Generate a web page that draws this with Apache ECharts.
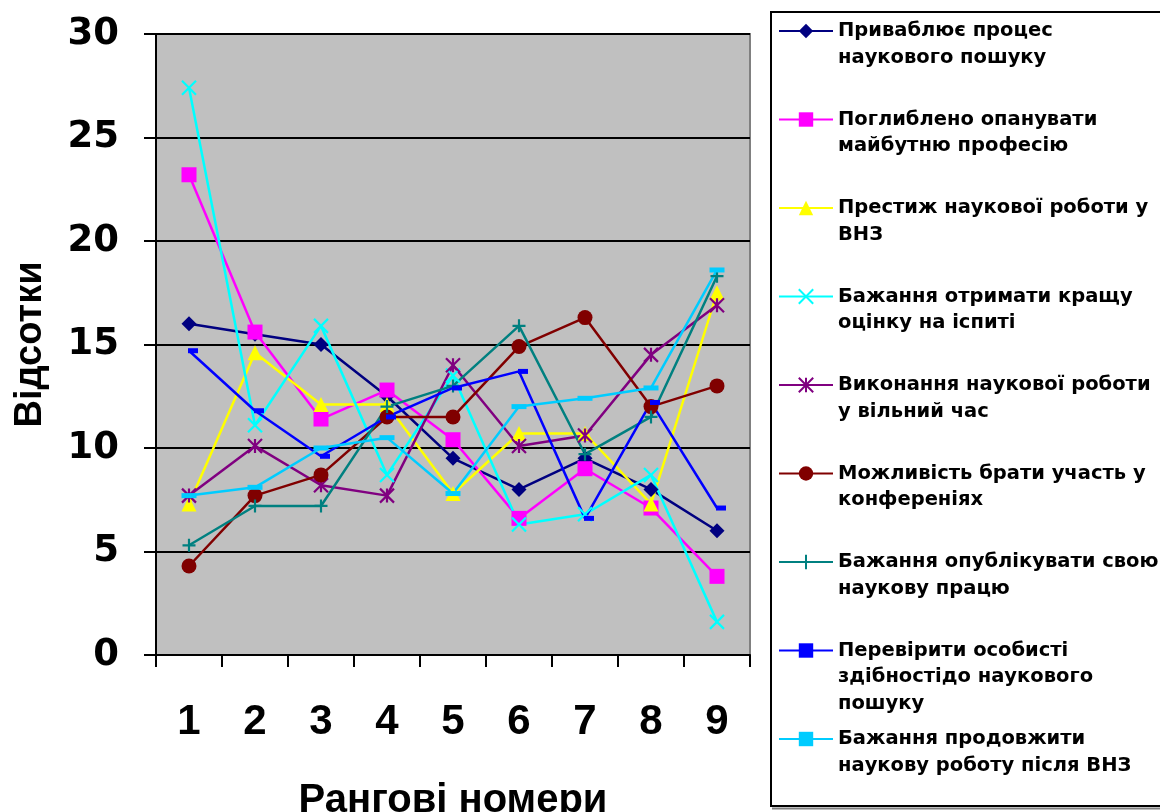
<!DOCTYPE html>
<html>
<head>
<meta charset="utf-8">
<script src="https://cdn.jsdelivr.net/npm/echarts@6/dist/echarts.min.js"></script>
<style>
  html, body { margin: 0; padding: 0; background: #fff; }
  #chart { width: 1160px; height: 812px; }
</style>
</head>
<body>
<div id="chart"></div>
<script>
// ранги по осі X
var ranks = ['1', '2', '3', '4', '5', '6', '7', '8', '9'];

// мотиви (назви рядів, з переносами як у легенді)
var seriesNames = [
  'Приваблює процес\nнаукового пошуку',
  'Поглиблено опанувати\nмайбутню професію',
  'Престиж наукової роботи у\nВНЗ',
  'Бажання отримати кращу\nоцінку на іспиті',
  'Виконання наукової роботи\nу вільний час',
  'Можливість брати участь у\nконференіях',
  'Бажання опублікувати свою\nнаукову працю',
  'Перевірити особисті\nздібностідо наукового\nпошуку',
  'Бажання продовжити\nнаукову роботу після ВНЗ'
];

// відсотки по рангах
var prociesPoshuku   = [16.0, 15.5, 15.0, 12.5, 9.5, 8.0, 9.5, 8.0, 6.0];
var opanuvatyProf    = [23.2, 15.6, 11.4, 12.8, 10.4, 6.6, 9.0, 7.1, 3.8];
var prestyzh         = [7.3, 14.6, 12.1, 12.1, 7.8, 10.7, 10.7, 7.3, 17.5];
var krashchaOtsinka  = [27.4, 11.1, 15.9, 8.7, 13.5, 6.3, 6.8, 8.7, 1.6];
var vilnyiChas       = [7.7, 10.1, 8.2, 7.7, 14.0, 10.1, 10.6, 14.5, 16.9];
var konferentsii     = [4.3, 7.7, 8.7, 11.5, 11.5, 14.9, 16.3, 12.0, 13.0];
var opublikuvaty     = [5.3, 7.2, 7.2, 12.0, 13.0, 15.9, 9.7, 11.5, 18.3];
var zdibnosti        = [14.7, 11.8, 9.6, 11.5, 12.9, 13.7, 6.6, 12.2, 7.1];
var prodovzhyty      = [7.7, 8.1, 10.0, 10.5, 7.8, 12.0, 12.4, 12.9, 18.6];

var yTicks = { min: 0, max: 30, step: 5 };

var allData = [prociesPoshuku, opanuvatyProf, prestyzh, krashchaOtsinka, vilnyiChas,
               konferentsii, opublikuvaty, zdibnosti, prodovzhyty];

var colors = ['#000080', '#FF00FF', '#FFFF00', '#00FFFF', '#800080',
              '#800000', '#008080', '#0000FF', '#00CCFF'];

// маркери як в Excel
var marks = [
  { symbol: 'diamond', size: 15 },
  { symbol: 'rect', size: 15 },
  { symbol: 'triangle', size: 15 },
  { symbol: 'path://M0,0L10,10M10,0L0,10', size: 14, stroke: true },
  { symbol: 'path://M0,0L10,10M10,0L0,10M5,0L5,10', size: 14, stroke: true },
  { symbol: 'circle', size: 15 },
  { symbol: 'path://M0,5L10,5M5,0L5,10', size: 13, stroke: true },
  { symbol: 'rect', size: [10, 5], offset: [4, 0] },
  { symbol: 'rect', size: [15, 5] }
];

var FONT = 'DejaVu Sans';
var lh = 26.5;
var legendY = [31, 119.5, 208, 296.5, 385, 473.5, 562, 650.5, 739];

var series = allData.map(function (d, i) {
  var m = marks[i];
  return {
    name: seriesNames[i],
    type: 'line',
    data: d,
    symbol: m.symbol,
    symbolSize: m.size,
    symbolOffset: m.offset || [0, 0],
    showAllSymbol: true,
    lineStyle: { color: colors[i], width: 2.5 },
    itemStyle: {
      color: colors[i],
      borderColor: colors[i],
      borderWidth: m.stroke ? 2.2 : 0,
      opacity: 1
    }
  };
});

// перший рядок підпису — на рівні значка: додаємо порожні рядки зверху
var legends = seriesNames.map(function (name, i) {
  var n = name.split('\n').length;
  var pad = new Array(n).join(' \n');
  return {
    data: [name],
    left: 778,
    top: legendY[i] - (2 * n - 1) * lh / 2,
    padding: 0,
    itemWidth: 54,
    itemHeight: 18,
    selectedMode: false,
    formatter: function (nm) { return pad + nm; },
    textStyle: {
      fontFamily: FONT,
      fontWeight: 'bold',
      fontSize: 19.5,
      color: '#000',
      lineHeight: lh
    }
  };
});

var myChart = echarts.init(document.getElementById('chart'));
var option = {
  animation: false,
  backgroundColor: '#fff',
  grid: {
    left: 156,
    right: 410,
    top: 34,
    bottom: 157,
    containLabel: false,
    outerBoundsMode: 'none',
    show: true,
    backgroundColor: '#C0C0C0',
    borderColor: '#808080',
    borderWidth: 2
  },
  legend: legends,
  graphic: [{
    type: 'rect',
    shape: { x: 771, y: 12, width: 430, height: 794 },
    style: { fill: 'none', stroke: '#000', lineWidth: 2 },
    z: -1
  }, {
    type: 'line',
    shape: { x1: 772, y1: 808.5, x2: 1160, y2: 808.5 },
    style: { stroke: '#808080', lineWidth: 2 },
    z: -1
  }],
  xAxis: {
    type: 'category',
    data: ranks,
    boundaryGap: true,
    name: 'Рангові номери',
    nameLocation: 'middle',
    nameGap: 126,
    nameTextStyle: { fontFamily: 'Liberation Sans', fontWeight: 'bold', fontSize: 40, color: '#000' },
    axisLine: { lineStyle: { color: '#000', width: 2 } },
    axisTick: { show: true, interval: 0, length: 12, lineStyle: { color: '#000', width: 2 } },
    axisLabel: {
      margin: 46,
      fontFamily: 'Liberation Sans',
      fontWeight: 'bold',
      fontSize: 42,
      color: '#000'
    },
    splitLine: { show: false }
  },
  yAxis: {
    type: 'value',
    min: yTicks.min,
    max: yTicks.max,
    interval: yTicks.step,
    name: 'Відсотки',
    nameLocation: 'middle',
    nameGap: 106,
    nameTextStyle: { fontFamily: 'Liberation Sans', fontWeight: 'bold', fontSize: 38, color: '#000' },
    axisLine: { show: true, lineStyle: { color: '#000', width: 2 } },
    axisTick: { show: true, length: 12, lineStyle: { color: '#000', width: 2 } },
    axisLabel: {
      margin: 37,
      fontFamily: FONT,
      fontWeight: 'bold',
      fontSize: 37,
      color: '#000'
    },
    splitLine: { show: true, lineStyle: { color: '#000', width: 2 } }
  },
  series: series
};
myChart.setOption(option);
</script>
</body>
</html>
